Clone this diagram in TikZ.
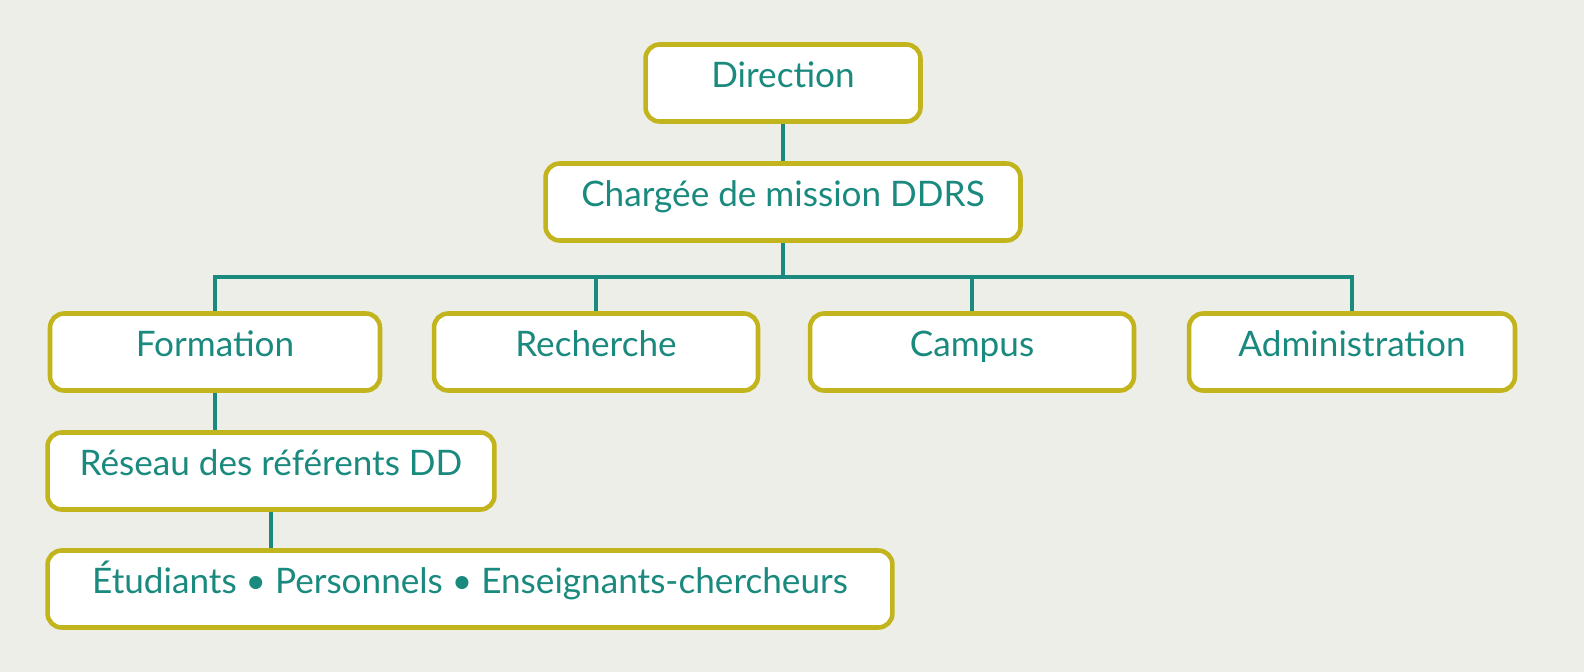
\documentclass[tikz,border=0pt]{standalone}
\usepackage{fontspec}
\setmainfont{Lato}
\definecolor{bg}{HTML}{EEEEE8}
\definecolor{bord}{HTML}{C2B41C}
\definecolor{teal}{HTML}{1A8A7E}
\begin{document}
\begin{tikzpicture}[x=0.02cm,y=-0.02cm,
  box/.style={draw=bord,line width=2.6pt,fill=white,rounded corners=8pt,text=teal,
    font=\fontsize{20}{23}\selectfont,inner sep=0pt,minimum height=1.54cm,
    text height=1.55ex,text depth=.45ex},
  link/.style={draw=teal,line width=2.2pt}]
\fill[bg] (0,0) rectangle (1584,672);
\useasboundingbox (0,0) rectangle (1584,672);
\node[box,minimum width=5.5cm] (dir) at (783,83) {Direction};
\node[box,minimum width=9.5cm] (chg) at (783,202) {Chargée de mission DDRS};
\node[box,minimum width=6.6cm] (for) at (215,352) {Formation};
\node[box,minimum width=6.48cm] (rec) at (596,352) {Recherche};
\node[box,minimum width=6.48cm] (cam) at (972,352) {Campus};
\node[box,minimum width=6.52cm] (adm) at (1352,352) {Administration};
\node[box,minimum width=8.94cm] (res) at (271,471) {Réseau des référents DD};
\node[box,minimum width=16.9cm] (etu) at (470,589) {Étudiants • Personnels • Enseignants-chercheurs};
\coordinate (bar) at (783,277);
\draw[link] (dir.south) -- (chg.north);
\draw[link] (chg.south) -- (bar);
\draw[link] (for.north) |- (bar) -| (adm.north);
\draw[link] (rec.north) -- (rec.north |- bar);
\draw[link] (cam.north) -- (cam.north |- bar);
\draw[link] (for.south) -- (for.south |- res.north);
\draw[link] (res.south) -- (etu.north -| res.south);
\end{tikzpicture}
\end{document}
